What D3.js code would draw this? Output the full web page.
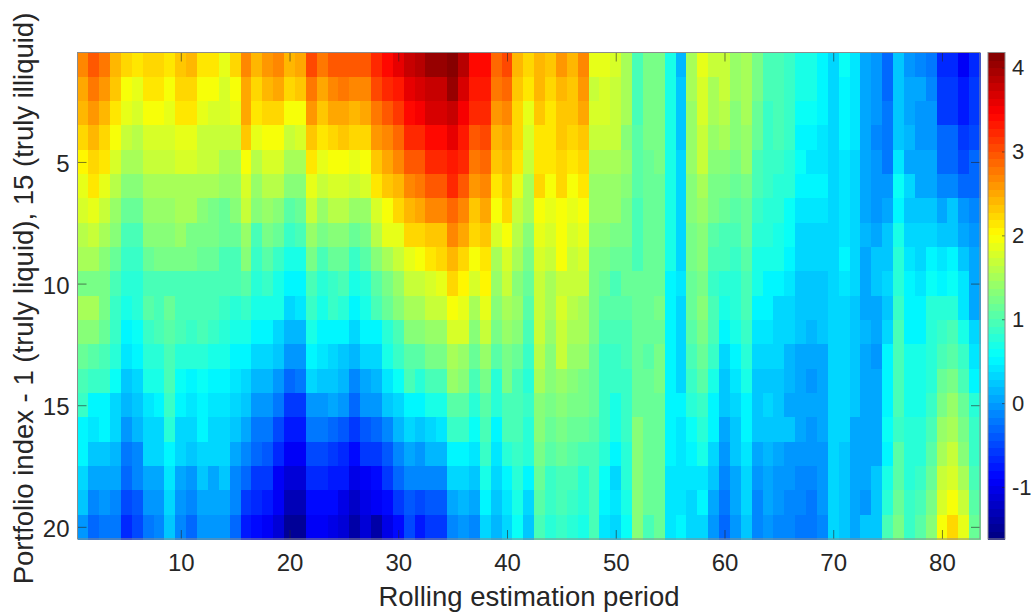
<!DOCTYPE html>
<html>
<head>
<meta charset="utf-8">
<script src="https://cdn.jsdelivr.net/npm/d3@7"></script>
<style>
    html, body { margin: 0; padding: 0; background: #fff; overflow: hidden; }
    svg { display: block; }
    text { font-family: "Liberation Sans", Arial, sans-serif; fill: #262626; }
</style>
</head>
<body>
<div id="chart"></div>
<script>
'use strict';

// one row per portfolio, one entry per rolling period (1..83)
var portfolio01 = [2.68,3.0,2.75,2.42,2.25,2.15,2.2,2.2,2.12,2.35,2.4,2.1,2.1,1.85,2.25,2.72,2.45,2.6,2.7,2.4,2.5,3.05,2.75,3.0,3.0,2.95,2.95, 3.25,3.45,3.6,3.75,3.85,4.0,4.0,4.18,3.9,3.45,3.45,2.9,3.05,2.45,2.25,2.45,2.35,2.55,2.45,2.65,1.85,1.85,1.8,1.55,0.95,1.25,1.2,0.7,0.15,1.55, 1.85,1.65,1.7,1.45,1.55,1.25,1.0,0.95,0.85,0.7,0.7,0.55,0.35,0.6,0.4,0.1,-0.05,-0.35,0.25,0.0,-0.1,-0.2,-0.7,-0.7,-0.9,-0.65];
var portfolio02 = [2.5,2.75,2.6,2.3,2.0,1.85,2.1,2.1,2.0,2.2,2.2,2.0,2.0,1.75,2.0,2.5,2.25,2.4,2.5,2.2,2.3,2.8,2.5,2.7,2.75,2.7,2.7, 3.05,3.2,3.35,3.6,3.65,3.8,3.8,4.0,3.65,3.35,3.3,2.75,2.85,2.35,2.15,2.4,2.25,2.4,2.35,2.55,1.7,1.8,1.7,1.55,0.95,1.2,1.2,0.65,0.2,1.5, 1.8,1.55,1.65,1.4,1.5,1.2,0.95,0.95,0.85,0.7,0.7,0.55,0.35,0.55,0.45,0.05,-0.05,-0.3,0.25,0.05,0.05,-0.1,-0.55,-0.55,-0.8,-0.6];
var portfolio03 = [2.4,2.6,2.45,2.1,1.85,1.75,2.0,2.0,1.85,2.1,2.1,1.85,1.75,1.75,1.85,2.5,2.1,2.2,2.2,2.0,2.0,2.6,2.3,2.5,2.5,2.4,2.5, 2.8,3.0,3.15,3.4,3.5,3.65,3.65,3.75,3.5,3.2,3.2,2.55,2.7,2.25,1.9,2.3,2.15,2.35,2.3,2.5,1.75,1.75,1.7,1.5,0.95,1.2,1.2,0.65,0.2,1.45, 1.75,1.5,1.6,1.35,1.5,1.15,0.9,1.0,0.85,0.6,0.6,0.5,0.35,0.55,0.4,0.05,-0.05,-0.2,0.25,0.05,-0.05,-0.05,-0.55,-0.55,-0.8,-0.55];
var portfolio04 = [2.2,2.4,2.25,2.0,1.65,1.6,1.75,1.75,1.8,1.85,1.85,1.7,1.7,1.65,1.65,2.3,1.9,2.0,2.0,1.7,1.75,2.35,2.1,2.2,2.3,2.2,2.2, 2.55,2.7,2.9,3.2,3.25,3.45,3.45,3.6,3.35,3.0,3.05,2.4,2.5,2.2,1.8,2.15,2.15,2.3,2.2,2.3,1.65,1.65,1.65,1.35,1.05,1.2,1.2,0.65,0.2,1.45, 1.7,1.45,1.55,1.3,1.45,1.15,0.9,0.95,0.85,0.55,0.55,0.45,0.35,0.55,0.4,0.1,-0.1,-0.2,0.25,0.15,0.0,0.0,-0.35,-0.35,-0.55,-0.5];
var portfolio05 = [2.05,2.25,2.1,1.75,1.5,1.5,1.7,1.7,1.7,1.75,1.75,1.65,1.65,1.55,1.55,2.0,1.6,1.75,1.75,1.5,1.55,2.1,1.9,2.0,2.0,1.85,2.0, 2.35,2.5,2.65,3.0,3.0,3.2,3.2,3.35,3.2,2.75,2.85,2.3,2.45,2.1,1.7,2.1,2.1,2.25,2.1,2.25,1.5,1.5,1.55,1.4,1.05,1.15,1.2,0.65,0.35,1.4, 1.65,1.3,1.3,1.2,1.4,1.0,0.9,0.9,0.75,0.6,0.45,0.45,0.35,0.45,0.35,0.1,-0.05,-0.2,0.45,0.1,0.1,0.1,-0.3,-0.3,-0.5,-0.3];
var portfolio06 = [1.85,2.1,1.9,1.6,1.35,1.35,1.55,1.55,1.55,1.55,1.55,1.5,1.5,1.4,1.4,1.8,1.45,1.6,1.6,1.3,1.3,1.9,1.65,1.8,1.8,1.7,1.8, 2.15,2.3,2.4,2.7,2.75,3.0,3.0,3.2,2.95,2.55,2.7,2.15,2.35,1.85,1.5,2.2,2.0,2.2,2.0,2.15,1.45,1.4,1.45,1.3,1.05,1.15,1.15,0.65,0.35,1.35, 1.5,1.25,1.2,1.1,1.2,0.95,0.85,0.8,0.75,0.5,0.5,0.5,0.35,0.45,0.35,0.1,0.0,0.0,0.6,0.3,0.1,0.05,-0.1,-0.1,-0.3,-0.3];
var portfolio07 = [1.8,1.9,1.7,1.45,1.15,1.15,1.4,1.4,1.4,1.5,1.5,1.35,1.2,1.15,1.3,1.65,1.35,1.45,1.3,1.05,1.15,1.7,1.4,1.6,1.6,1.4,1.45, 1.8,2.0,2.25,2.4,2.5,2.7,2.7,2.9,2.65,2.35,2.5,2.0,2.2,1.7,1.5,2.0,1.9,2.0,1.85,2.0,1.4,1.4,1.4,1.25,1.0,1.15,1.15,0.7,0.35,1.3, 1.45,1.2,1.15,1.05,1.15,0.9,0.8,0.75,0.6,0.45,0.4,0.4,0.35,0.45,0.35,0.1,0.0,0.05,0.55,0.25,0.2,0.2,0.05,0.25,-0.05,-0.15];
var portfolio08 = [1.6,1.7,1.55,1.3,1.0,1.0,1.3,1.3,1.3,1.4,1.2,1.2,1.2,1.15,1.1,1.45,1.0,1.2,1.1,0.85,1.0,1.45,1.2,1.35,1.35,1.15,1.25, 1.6,1.85,1.9,2.2,2.2,2.35,2.35,2.65,2.5,2.2,2.3,1.75,2.0,1.6,1.35,1.85,1.75,2.0,1.75,1.9,1.35,1.3,1.2,1.2,1.0,1.15,1.15,0.7,0.35,1.25, 1.35,1.05,1.0,0.95,1.15,0.8,0.75,0.65,0.6,0.35,0.35,0.35,0.35,0.45,0.35,0.15,0.05,0.2,0.7,0.35,0.35,0.3,0.25,0.25,0.05,0.0];
var portfolio09 = [1.5,1.5,1.35,1.15,0.85,0.85,1.1,1.25,1.25,1.25,1.25,1.1,1.1,1.0,1.0,1.3,0.85,1.05,0.9,0.65,0.65,1.2,0.95,1.1,1.1,0.85,1.05, 1.3,1.5,1.7,1.9,2.0,2.15,2.2,2.4,2.2,2.0,2.15,1.55,1.75,1.55,1.25,1.8,1.7,1.95,1.7,1.75,1.25,1.2,1.1,1.1,0.95,1.1,1.1,0.7,0.35,1.2, 1.3,1.0,0.95,0.85,1.05,0.65,0.7,0.7,0.5,0.35,0.35,0.35,0.3,0.5,0.35,0.1,0.2,0.2,0.8,0.45,0.35,0.5,0.4,0.55,0.2,0.05];
var portfolio10 = [1.25,1.25,1.2,0.95,0.75,0.75,0.95,0.95,1.0,1.0,1.0,1.0,1.0,1.0,1.0,1.05,0.75,0.85,0.7,0.55,0.55,1.0,0.8,0.9,0.95,0.7,0.8, 1.05,1.25,1.45,1.65,1.65,1.8,1.85,2.25,2.05,1.8,2.05,1.45,1.65,1.35,1.1,1.7,1.55,1.7,1.7,1.7,1.25,1.1,1.0,1.15,1.15,1.15,1.15,0.55,0.4,1.15, 1.25,0.85,0.75,0.75,1.0,0.65,0.55,0.55,0.4,0.25,0.25,0.25,0.3,0.45,0.35,0.1,0.25,0.35,0.8,0.5,0.45,0.6,0.55,0.6,0.4,0.1];
var portfolio11 = [1.55,1.5,1.25,0.9,0.7,0.8,1.05,1.0,1.15,1.0,1.0,1.0,1.0,0.9,0.8,0.9,0.7,0.7,0.65,0.35,0.45,0.85,0.7,0.85,0.75,0.5,0.7, 0.95,1.1,1.3,1.55,1.55,1.7,1.7,2.0,1.85,1.55,1.85,1.35,1.5,1.4,1.05,1.65,1.55,1.75,1.6,1.55,1.2,1.05,1.05,1.05,1.15,1.15,1.2,0.55,0.35,1.1, 1.3,1.0,0.7,0.75,0.95,0.55,0.55,0.35,0.3,0.25,0.25,0.25,0.3,0.3,0.25,0.05,0.05,0.25,0.9,0.55,0.55,0.75,0.75,0.8,0.45,0.1];
var portfolio12 = [1.3,1.3,1.1,0.85,0.55,0.6,0.85,0.95,1.05,0.95,0.9,0.95,0.85,0.8,0.7,0.7,0.55,0.55,0.35,0.15,0.15,0.65,0.55,0.55,0.55,0.35,0.55, 0.55,0.8,1.0,1.3,1.3,1.45,1.45,1.8,1.8,1.35,1.7,1.2,1.4,1.3,0.95,1.65,1.45,1.7,1.55,1.55,1.2,1.0,0.95,0.95,1.1,1.15,1.15,0.55,0.35,1.05, 1.2,0.95,0.55,0.65,0.9,0.4,0.4,0.35,0.3,0.25,0.15,0.25,0.3,0.3,0.25,0.15,0.05,0.35,0.95,0.55,0.55,0.75,0.85,0.95,0.65,0.3];
var portfolio13 = [1.15,1.05,1.0,0.75,0.4,0.55,0.75,0.75,1.0,0.75,0.75,0.75,0.7,0.7,0.55,0.55,0.35,0.35,0.2,0.0,0.0,0.5,0.4,0.35,0.25,0.15,0.3, 0.35,0.65,0.85,1.05,1.05,1.25,1.25,1.55,1.45,1.15,1.45,1.05,1.2,1.1,0.9,1.6,1.35,1.65,1.4,1.4,1.15,0.9,0.85,0.95,1.1,1.05,1.2,0.55,0.35,1.0, 1.15,0.85,0.35,0.5,0.75,0.35,0.35,0.3,0.15,0.1,0.1,0.1,0.3,0.3,0.2,0.1,0.0,0.55,1.0,0.7,0.7,0.75,0.95,1.05,0.85,0.45];
var portfolio14 = [1.0,0.9,0.9,0.6,0.25,0.3,0.65,0.65,0.95,0.6,0.55,0.6,0.55,0.55,0.4,0.3,0.15,0.15,0.0,-0.3,-0.2,0.35,0.2,0.25,0.15,-0.1,0.1, 0.15,0.4,0.6,0.95,0.75,1.0,1.0,1.4,1.35,0.95,1.25,0.8,1.2,1.0,0.8,1.5,1.3,1.45,1.35,1.25,1.15,0.9,0.85,0.85,1.1,1.1,1.2,0.55,0.35,0.85, 1.05,0.65,0.25,0.4,0.65,0.2,0.2,0.2,0.15,0.1,0.0,0.1,0.3,0.3,0.2,0.1,0.1,0.5,0.95,0.7,0.7,0.8,1.15,1.25,0.95,0.55];
var portfolio15 = [0.85,0.55,0.55,0.35,0.15,0.2,0.45,0.55,0.85,0.55,0.4,0.55,0.45,0.4,0.3,0.25,0.0,0.0,-0.2,-0.55,-0.55,0.0,-0.05,0.05,-0.05,-0.35,-0.05, 0.0,0.2,0.35,0.55,0.55,0.65,0.65,1.05,1.05,0.8,1.05,0.8,1.0,1.0,0.85,1.35,1.25,1.35,1.25,1.25,1.1,0.85,0.7,0.85,1.1,1.1,1.1,0.55,0.55,0.75, 0.9,0.55,0.2,0.3,0.55,0.2,0.35,0.2,0.1,0.05,0.05,0.1,0.3,0.3,0.25,0.1,0.1,0.55,1.0,0.7,0.7,0.9,1.2,1.45,1.15,0.75];
var portfolio16 = [0.55,0.4,0.5,0.35,-0.05,0.15,0.35,0.35,0.75,0.35,0.3,0.5,0.35,0.35,0.2,0.1,-0.2,-0.2,-0.5,-0.75,-0.75,-0.2,-0.2,-0.3,-0.4,-0.6,-0.4, -0.3,-0.1,0.15,0.3,0.25,0.3,0.4,0.85,0.85,0.6,0.95,0.55,0.95,0.95,0.75,1.35,1.1,1.2,1.15,1.1,1.05,0.85,0.65,0.85,1.3,1.1,1.1,0.55,0.45,0.6, 0.8,0.5,0.05,0.25,0.55,0.2,0.25,0.25,0.2,0.1,-0.05,0.05,0.3,0.3,0.1,0.1,0.1,0.6,0.9,0.75,0.8,0.95,1.4,1.55,1.2,0.85];
var portfolio17 = [0.5,0.25,0.25,0.15,-0.2,-0.1,0.3,0.3,0.55,0.3,0.2,0.3,0.3,0.3,0.1,-0.1,-0.35,-0.4,-0.65,-0.9,-0.9,-0.45,-0.45,-0.55,-0.65,-0.85,-0.6, -0.55,-0.4,-0.1,0.05,-0.05,0.15,0.15,0.55,0.55,0.45,0.85,0.4,0.75,0.9,0.75,1.25,1.05,1.1,1.05,1.0,1.0,0.75,0.5,0.8,1.3,1.1,1.1,0.55,0.45,0.5, 0.7,0.3,-0.05,0.2,0.4,0.05,0.15,0.05,0.0,-0.05,-0.05,0.0,0.3,0.2,0.1,0.05,0.05,0.55,1.05,0.8,0.75,1.05,1.5,1.7,1.35,0.9];
var portfolio18 = [0.3,0.1,0.1,0.1,-0.35,-0.15,0.1,0.1,0.45,0.1,0.0,0.2,0.1,0.2,-0.1,-0.35,-0.6,-0.6,-0.9,-1.15,-1.15,-0.65,-0.7,-0.8,-0.8,-1.05,-0.9, -0.85,-0.6,-0.35,-0.1,-0.15,-0.1,-0.1,0.3,0.3,0.2,0.7,0.3,0.5,0.8,0.55,1.15,0.9,0.95,0.95,0.8,0.95,0.6,0.35,0.8,1.3,1.1,1.1,0.45,0.4,0.45, 0.45,0.2,-0.1,0.1,0.3,-0.05,0.1,-0.05,-0.05,-0.1,-0.1,0.0,0.3,0.2,0.1,0.05,0.25,0.7,1.05,0.8,0.9,1.1,1.7,1.8,1.5,1.0];
var portfolio19 = [0.2,-0.1,0.0,-0.1,-0.5,-0.4,0.0,0.0,0.3,0.0,-0.1,0.1,0.05,0.05,-0.1,-0.55,-0.7,-0.8,-0.95,-1.3,-1.3,-0.85,-0.85,-0.85,-1.05,-1.25,-1.0, -0.95,-0.85,-0.6,-0.4,-0.5,-0.4,-0.4,0.05,0.15,0.05,0.5,0.2,0.45,0.7,0.3,1.05,0.85,0.95,0.85,0.75,0.95,0.55,0.4,0.65,1.3,1.1,1.1,0.45,0.45,0.35, 0.55,0.1,-0.2,0.05,0.3,-0.1,0.1,-0.05,-0.15,-0.15,-0.2,0.0,0.3,0.2,0.1,0.0,0.2,0.8,1.15,0.85,1.0,1.2,1.8,2.0,1.7,1.05];
var portfolio20 = [0.0,-0.35,-0.2,-0.2,-0.65,-0.45,-0.2,-0.1,0.2,-0.15,-0.35,0.0,0.0,0.0,-0.35,-0.75,-0.85,-0.9,-1.15,-1.5,-1.5,-0.95,-0.95,-1.05,-1.1,-1.4,-1.15, -1.35,-1.05,-0.85,-0.5,-0.75,-0.6,-0.6,-0.1,-0.05,-0.15,0.3,0.15,0.3,0.6,0.25,1.0,0.8,0.85,0.8,0.7,0.95,0.4,0.35,0.6,1.3,1.0,1.1,0.4,0.55,0.35, 0.35,-0.05,-0.3,-0.05,0.25,-0.1,0.0,-0.1,-0.1,-0.2,-0.2,-0.1,0.35,0.25,0.1,0.2,0.2,0.95,1.2,0.9,1.05,1.3,2.0,2.25,1.85,1.15];

var portfolios = [portfolio01, portfolio02, portfolio03, portfolio04, portfolio05,
    portfolio06, portfolio07, portfolio08, portfolio09, portfolio10,
    portfolio11, portfolio12, portfolio13, portfolio14, portfolio15,
    portfolio16, portfolio17, portfolio18, portfolio19, portfolio20];

var xTicks = [10, 20, 30, 40, 50, 60, 70, 80];
var yTicks = [5, 10, 15, 20];
var colorTicks = [-1, 0, 1, 2, 3, 4];
var colorLimits = [-1.62, 4.18];

var width = 1031, height = 615;
var plot = { left: 77.5, right: 980, top: 52.5, bottom: 539 };
var bar = { left: 988, right: 1005, top: 52.5, bottom: 539 };
var tickColor = '#262626';
var frameColor = '#8c8c8c';
var tickFont = 24;
var barTickFont = 22;
var titleFont = 27.5;

// matlab style jet, 64 flat levels
function jetLevel(i) {
    var t = (i + 0.5) / 64;
    var c = function(v) { return Math.round(255 * Math.max(0, Math.min(1, 1.5 - Math.abs(v)))); };
    return d3.rgb(c(4 * t - 3), c(4 * t - 2), c(4 * t - 1)).formatHex();
}
var jet = d3.range(64).map(jetLevel);

var colorScale = d3.scaleQuantize().domain(colorLimits).range(jet);
var x = d3.scaleLinear().domain([0.5, 83.5]).range([plot.left, plot.right]);
var y = d3.scaleLinear().domain([0.5, 20.5]).range([plot.top, plot.bottom]);
var barY = d3.scaleLinear().domain(colorLimits).range([bar.bottom, bar.top]);

var svg = d3.select('#chart').append('svg')
    .attr('width', width)
    .attr('height', height)
    .attr('viewBox', '0 0 ' + width + ' ' + height);

// heatmap cells
var cells = svg.append('g').attr('shape-rendering', 'crispEdges');
portfolios.forEach(function(row, r) {
    cells.selectAll(null)
        .data(row)
        .enter().append('rect')
        .attr('x', function(d, c) { return x(c + 0.5); })
        .attr('y', y(r + 0.5))
        .attr('width', x(1.5) - x(0.5) + 0.5)
        .attr('height', y(1.5) - y(0.5) + 0.5)
        .attr('fill', function(d) { return colorScale(d); });
});

function styleAxis(g, size) {
    g.select('.domain').remove();
    g.selectAll('.tick line').attr('stroke', tickColor).attr('stroke-opacity', 0.6);
    g.selectAll('.tick text').attr('font-size', size).attr('fill', tickColor);
}

// ticks point inwards on all four sides of the box
svg.append('g')
    .attr('transform', 'translate(0,' + plot.bottom + ')')
    .call(d3.axisBottom(x).tickValues(xTicks).tickSizeInner(-9).tickSizeOuter(0).tickPadding(15))
    .call(styleAxis, tickFont);
svg.append('g')
    .attr('transform', 'translate(0,' + plot.top + ')')
    .call(d3.axisTop(x).tickValues(xTicks).tickSizeInner(-9).tickSizeOuter(0).tickFormat(''))
    .call(styleAxis, tickFont);
svg.append('g')
    .attr('transform', 'translate(' + plot.left + ',0)')
    .call(d3.axisLeft(y).tickValues(yTicks).tickSizeInner(-9).tickSizeOuter(0).tickPadding(8))
    .call(styleAxis, tickFont)
    .selectAll('.tick text').attr('dy', '0.4em');
svg.append('g')
    .attr('transform', 'translate(' + plot.right + ',0)')
    .call(d3.axisRight(y).tickValues(yTicks).tickSizeInner(-9).tickSizeOuter(0).tickFormat(''))
    .call(styleAxis, tickFont);

svg.append('rect')
    .attr('x', plot.left)
    .attr('y', plot.top)
    .attr('width', plot.right - plot.left)
    .attr('height', plot.bottom - plot.top)
    .attr('fill', 'none')
    .attr('stroke', frameColor);

// colorbar
var levelHeight = (bar.bottom - bar.top) / jet.length;
svg.append('g')
    .attr('shape-rendering', 'crispEdges')
    .selectAll('rect')
    .data(jet)
    .enter().append('rect')
    .attr('x', bar.left)
    .attr('y', function(d, i) { return bar.bottom - (i + 1) * levelHeight; })
    .attr('width', bar.right - bar.left)
    .attr('height', levelHeight + 0.5)
    .attr('fill', function(d) { return d; });

svg.append('g')
    .attr('transform', 'translate(' + bar.right + ',0)')
    .call(d3.axisRight(barY).tickValues(colorTicks).tickSizeInner(-3).tickSizeOuter(0).tickPadding(7)
        .tickFormat(function(d) { return String(d); }))
    .call(styleAxis, barTickFont);

svg.append('rect')
    .attr('x', bar.left)
    .attr('y', bar.top)
    .attr('width', bar.right - bar.left)
    .attr('height', bar.bottom - bar.top)
    .attr('fill', 'none')
    .attr('stroke', frameColor);

// axis titles
svg.append('text')
    .attr('x', 529)
    .attr('y', 606)
    .attr('text-anchor', 'middle')
    .attr('font-size', titleFont)
    .text('Rolling estimation period');

svg.append('text')
    .attr('transform', 'translate(33,298.5) rotate(-90)')
    .attr('text-anchor', 'middle')
    .attr('font-size', titleFont)
    .text('Portfolio index - 1 (truly liquid), 15 (truly illiquid)');
</script>
</body>
</html>
